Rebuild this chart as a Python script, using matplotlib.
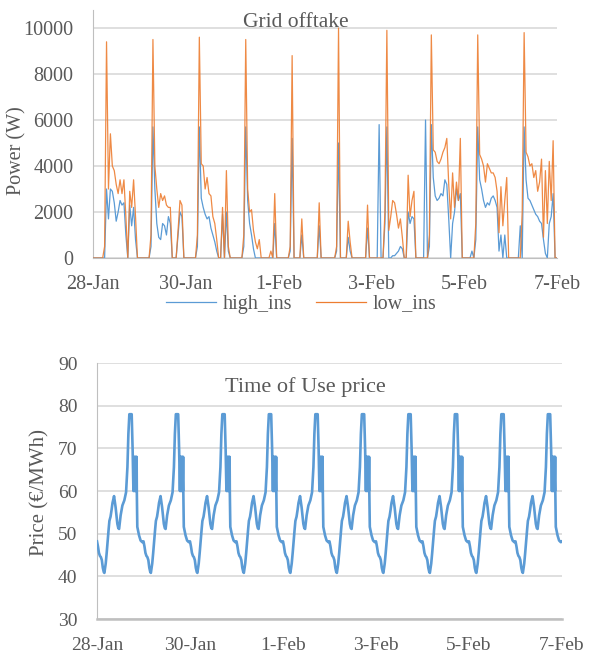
import numpy as np
import matplotlib
matplotlib.use('Agg')
import matplotlib.pyplot as plt

plt.rcParams['font.family'] = ['Liberation Serif', 'DejaVu Serif']

# ---------------- data ----------------
date_labels = ['28-Jan', '30-Jan', '1-Feb', '3-Feb', '5-Feb', '7-Feb']
n_days = 10

# hourly grid offtake (W), one row per day (28-Jan ... 6-Feb)
low_ins = [
    0, 0, 0, 0, 0, 0, 500, 9400, 3000, 5400, 4000, 3800, 3200, 2800, 3400, 2800, 3400, 1800, 0, 2900, 2200, 3400, 1800, 0,
    0, 0, 0, 0, 0, 0, 1000, 9500, 4000, 3000, 2200, 2800, 2500, 2700, 2300, 2200, 2200, 0, 0, 0, 1200, 2500, 2300, 0,
    0, 0, 0, 0, 0, 0, 1000, 9600, 4100, 4000, 3000, 3500, 2800, 2700, 1800, 1500, 800, 0, 0, 2200, 0, 3800, 500, 0,
    0, 0, 0, 0, 0, 0, 1000, 9500, 3000, 2000, 2100, 1200, 700, 400, 800, 0, 0, 0, 0, 0, 300, 0, 2800, 0,
    0, 0, 0, 0, 0, 0, 500, 8800, 0, 0, 0, 0, 1700, 0, 0, 0, 0, 0, 0, 0, 0, 2400, 0, 0,
    0, 0, 0, 0, 0, 0, 500, 10000, 0, 0, 0, 0, 1600, 700, 0, 0, 0, 0, 0, 0, 0, 0, 2300, 0,
    0, 0, 0, 0, 0, 0, 0, 2000, 9900, 1200, 1800, 2500, 2400, 1900, 1300, 1700, 900, 0, 0, 3600, 1800, 2500, 2900, 0,
    0, 0, 0, 0, 0, 0, 1000, 9700, 4700, 4600, 4200, 4100, 4300, 4600, 4800, 5200, 3200, 1700, 3700, 2200, 3300, 2500, 5200, 0,
    0, 0, 0, 0, 0, 0, 1500, 9700, 4500, 4300, 4000, 3300, 4100, 3900, 3700, 3700, 3500, 2900, 1100, 3100, 1400, 2500, 3500, 0,
    0, 0, 0, 0, 0, 0, 2000, 9800, 4600, 4400, 4000, 4100, 3500, 3800, 2900, 3300, 4300, 900, 3800, 1500, 4200, 2500, 5100, 0,
    0,
]

high_ins = [
    0, 0, 0, 0, 0, 0, 0, 3000, 1700, 3000, 2900, 2400, 1600, 2000, 2500, 2300, 2400, 1000, 0, 2300, 1400, 2200, 800, 0,
    0, 0, 0, 0, 0, 0, 500, 5700, 3000, 1500, 900, 800, 1500, 1400, 1000, 1800, 1500, 0, 0, 0, 1000, 2000, 1800, 0,
    0, 0, 0, 0, 0, 0, 500, 5700, 2600, 2200, 1900, 1700, 1800, 1300, 1000, 700, 300, 0, 0, 1900, 0, 2000, 300, 0,
    0, 0, 0, 0, 0, 0, 500, 5700, 2500, 1500, 1000, 400, 0, 0, 0, 0, 0, 0, 0, 0, 0, 0, 1500, 0,
    0, 0, 0, 0, 0, 0, 300, 5200, 0, 0, 0, 0, 1000, 0, 0, 0, 0, 0, 0, 0, 0, 1400, 0, 0,
    0, 0, 0, 0, 0, 0, 300, 5000, 0, 0, 0, 0, 900, 300, 0, 0, 0, 0, 0, 0, 0, 0, 1300, 0,
    0, 0, 0, 0, 5800, 0, 0, 1500, 5700, 0, 0, 100, 100, 200, 300, 500, 400, 0, 0, 2000, 1500, 1800, 1700, 0,
    0, 0, 0, 0, 6000, 0, 500, 5800, 3500, 2700, 2500, 2600, 2800, 2700, 3400, 3200, 1700, 0, 1500, 2000, 3000, 2500, 2800, 0,
    0, 0, 0, 0, 300, 0, 800, 5700, 3400, 3000, 2500, 2200, 2400, 2300, 2600, 2700, 2500, 2200, 300, 1000, 0, 1000, 0, 0,
    0, 0, 0, 0, 0, 1400, 0, 5700, 3400, 2600, 2500, 2300, 2100, 1900, 1800, 1600, 1500, 800, 200, 0, 1500, 1800, 2800, 0,
    0,
]

# Time of Use price: daily profile (same every day), hour of day -> EUR/MWh
price_hours = [0, 0.5, 1, 1.5, 2, 2.5, 3, 3.5, 3.8, 4.5, 5, 5.5, 6, 6.4, 7, 7.5, 8, 8.8, 9.6,
               10, 10.5, 11, 11.4, 12.2, 13.1, 14.1, 15, 15.7, 16.2, 16.7, 17.9, 18.4,
               18.8, 19.05, 19.3, 19.55, 19.8, 20.05, 20.3, 20.45, 20.55, 20.8, 21.7, 22.5, 23.4]
price_day = [48.2, 47, 45.5, 44.8, 44.5, 43.8, 42, 41, 40.8, 43, 45.5, 48.4, 51, 53, 54, 55.5, 57.2, 58.8, 56.2,
             54.5, 52.3, 51.3, 51.1, 54.3, 56.6, 57.8, 59.7, 65.6, 73.4, 78, 78, 69.5,
             60, 68, 60, 68, 60, 68, 60, 68, 60, 51.6, 49.6, 48.4, 48]

# ---------------- figure ----------------
W, H = 589, 656
fig = plt.figure(figsize=(W / 100, H / 100), dpi=100)
txt = '#595959'
grid_c = '#D9D9D9'
spine_c = '#BFBFBF'
blue = '#5B9BD5'
orange = '#ED7D31'

hours = np.arange(len(low_ins))
xticks = np.arange(0, 24 * n_days + 1, 48)

# top chart
ax1 = fig.add_axes([93 / W, (H - 258) / H, (557 - 93) / W, (258 - 10) / H])
ax1.plot(hours, high_ins, color=blue, lw=0.9, zorder=3)
ax1.plot(hours, low_ins, color=orange, lw=0.9, zorder=4, alpha=0.9)
ax1.set_xlim(0, 24 * n_days)
ax1.set_ylim(0, 10783)
ax1.set_yticks(np.arange(0, 10001, 2000))
ax1.set_xticks(xticks)
ax1.set_xticklabels(date_labels)
ax1.grid(axis='y', color=grid_c, lw=1.2, zorder=0)
for s in ['top', 'right']:
    ax1.spines[s].set_visible(False)
ax1.spines['left'].set_color(spine_c)
ax1.spines['bottom'].set_color(spine_c)
ax1.tick_params(axis='both', length=0, labelsize=14.5, colors=txt)
ax1.tick_params(axis='x', pad=12)
ax1.tick_params(axis='y', pad=14)
fig.text(17 / W, 1 - 151 / H, 'Power (W)', rotation=90, ha='center', va='center',
         fontsize=14.5, color=txt)
fig.text(296 / W, 1 - 27 / H, 'Grid offtake', ha='center', va='baseline', fontsize=15.5, color=txt)

leg = fig.legend(handles=ax1.get_lines(), labels=['high_ins', 'low_ins'], loc='center',
                 bbox_to_anchor=(301 / W, 1 - 304 / H), ncol=2, frameon=False, fontsize=14.5,
                 handlelength=2.5, handletextpad=0.3, columnspacing=1.2)
for t in leg.get_texts():
    t.set_color(txt)
for l in leg.get_lines():
    l.set_alpha(1)

# bottom chart
px = np.concatenate([np.array(price_hours) + 24 * d for d in range(n_days)] + [np.array([24 * n_days])])
py = np.concatenate([np.array(price_day) for d in range(n_days)] + [np.array([price_day[0]])])

ax2 = fig.add_axes([97 / W, (H - 619) / H, (562 - 97) / W, (619 - 363) / H])
ax2.plot(px, py, color=blue, lw=1.9, zorder=3, solid_joinstyle='round')
ax2.set_xlim(0, 24 * n_days)
ax2.set_ylim(30, 90)
ax2.set_yticks(np.arange(30, 91, 10))
ax2.set_xticks(xticks)
ax2.set_xticklabels(date_labels)
ax2.grid(axis='y', color=grid_c, lw=1.2, zorder=0)
for s in ['top', 'right']:
    ax2.spines[s].set_visible(False)
ax2.spines['left'].set_color(spine_c)
ax2.spines['bottom'].set_color(spine_c)
ax2.spines['bottom'].set_linewidth(1.8)
ax2.tick_params(axis='both', length=0, labelsize=14, colors=txt)
ax2.tick_params(axis='x', pad=13)
ax2.tick_params(axis='y', pad=14)
fig.text(40 / W, 1 - 492 / H, 'Price (€/MWh)', rotation=90, ha='center', va='center',
         fontsize=15, color=txt)
fig.text(305 / W, 1 - 392 / H, 'Time of Use price', ha='center', va='baseline', fontsize=16, color=txt)

fig.savefig('out.png', dpi=100)
